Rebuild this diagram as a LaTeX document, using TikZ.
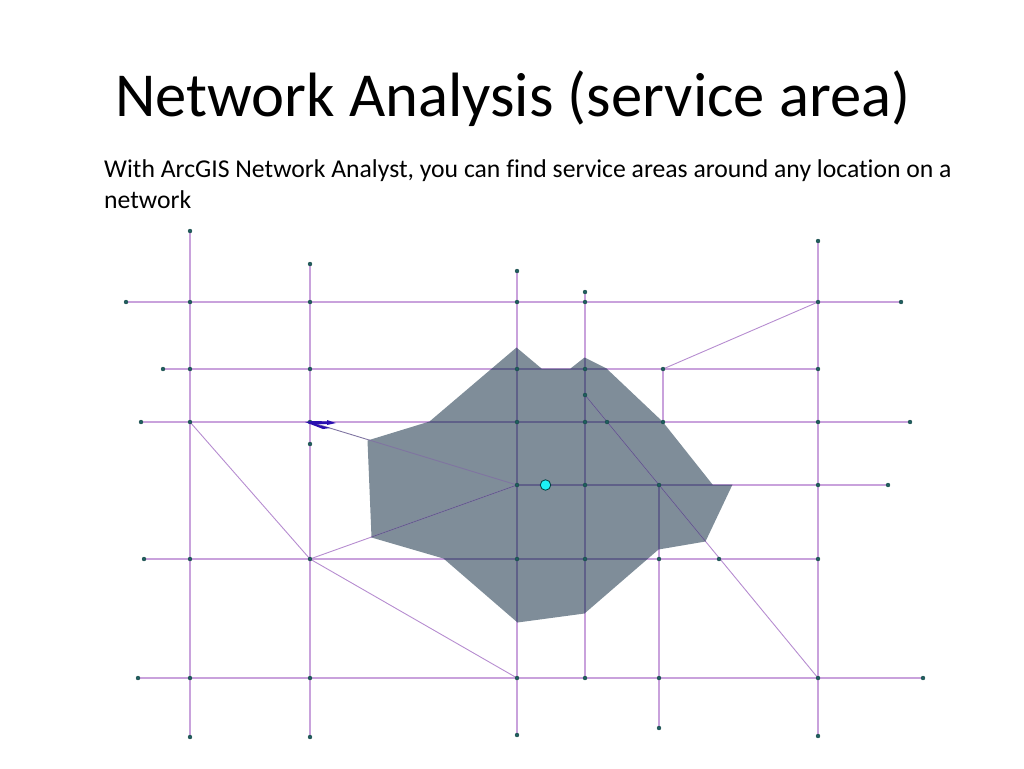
\documentclass[tikz,border=0pt]{standalone}
\usepackage{fontspec}
\setmainfont[Ligatures={NoCommon}]{Carlito}
\pgfdeclarelayer{bg}
\pgfsetlayers{bg,main}
\definecolor{netpurple}{HTML}{C9A2DC}
\definecolor{diagpurple}{HTML}{B68CD0}
\definecolor{netdark}{HTML}{5F6088}
\definecolor{areagrey}{HTML}{7F8D99}
\definecolor{dotgreen}{HTML}{1F5F5F}
\definecolor{barrierblue}{HTML}{2A10B0}
\definecolor{faccyan}{HTML}{1CF0F4}
\tikzset{
  dot/.style={circle,fill=dotgreen,draw=dotgreen!70!black,line width=0.3pt,minimum size=4pt,inner sep=0pt},
  facility/.style={circle,fill=faccyan,draw=black!50!teal,line width=0.8pt,minimum size=10.5pt,inner sep=0pt},
  titletext/.style={anchor=base west,inner sep=0pt,font=\fontsize{62.6}{62.6}\selectfont},
  bodytext/.style={anchor=base west,inner sep=0pt,font=\fontsize{25.68}{25.68}\selectfont},
}
\newcommand{\netlines}[2]{%
  \begin{scope}[color=#1,line width=1.4pt]
  \draw (n125-301.center) -- (n900-301.center);
  \draw (n162-368.center) -- (n817-368.center);
  \draw (n140-421.center) -- (n909-421.center);
  \draw (n516-484.center) -- (n887-484.center);
  \draw (n143-558.center) -- (n817-558.center);
  \draw (n137-677.center) -- (n922-677.center);
  \draw (n189-230.center) -- (n189-736.center);
  \draw (n309-263.center) -- (n309-736.center);
  \draw (n516-270.center) -- (n516-734.center);
  \draw (n584-291.center) -- (n584-677.center);
  \draw (n658-484.center) -- (n658-727.center);
  \draw (n817-240.center) -- (n817-735.center);
  \draw (n662-368.center) -- (n662-421.center);
  \end{scope}
  \begin{scope}[color=#2,line width=0.9pt]
  \draw (n817-301.center) -- (n662-368.center);
  \draw (n189-421.center) -- (n309-558.center);
  \draw (n309-558.center) -- (n516-484.center);
  \draw (n309-558.center) -- (n516-677.center);
  \draw (n584-394.center) -- (n817-677.center);
  \end{scope}}
\begin{document}
\begin{tikzpicture}[x=1pt,y=-1pt]
\useasboundingbox (-1,-1) rectangle (1023,767);
\node[titletext] (title) at (114,115.5) {Network Analysis (service area)};
\node[bodytext] (line1) at (103,176.5) {With ArcGIS Network Analyst, you can find service areas around any location on a};
\node[bodytext] (line2) at (103,207.5) {network};
\foreach \x/\y in {125/301,189/301,309/301,516/301,584/301,817/301,900/301,
  189/230,309/263,516/270,584/291,817/240,
  162/368,189/368,309/368,516/368,584/368,662/368,817/368,
  140/421,189/421,309/421,516/421,584/421,606/421,662/421,817/421,909/421,
  584/394,309/443,
  516/484,584/484,658/484,817/484,887/484,
  143/558,189/558,309/558,516/558,584/558,658/558,718/558,817/558,
  137/677,189/677,309/677,516/677,584/677,658/677,817/677,922/677,
  189/736,309/736,516/734,658/727,817/735}
  {\node[dot] (n\x-\y) at (\x,\y) {};}
\node[facility] (fac) at (544.5,484) {};
\begin{pgfonlayer}{bg}
  \fill[areagrey] (515.5,346.5) -- (540.5,367.5) -- (569.5,367.5) -- (583.5,356.5) -- (605.5,367.5) -- (661.5,420.5) -- (711.5,483.5) -- (731.5,483.5) -- (704.5,540.5) -- (657.5,548.5) -- (583.5,612.5) -- (516.5,621.5) -- (442.5,557.5) -- (370.5,536.5) -- (366.5,439.5) -- (428.5,420.5) -- cycle;
  \netlines{netpurple}{diagpurple}
  \begin{scope}
    \clip (515.5,346.5) -- (540.5,367.5) -- (569.5,367.5) -- (583.5,356.5) -- (605.5,367.5) -- (661.5,420.5) -- (711.5,483.5) -- (731.5,483.5) -- (704.5,540.5) -- (657.5,548.5) -- (583.5,612.5) -- (516.5,621.5) -- (442.5,557.5) -- (370.5,536.5) -- (366.5,439.5) -- (428.5,420.5) -- cycle;
    \netlines{netdark}{netdark}
  \end{scope}
  \draw[netdark!70!netpurple,line width=0.9pt] (n516-484.center) -- (n309-421.center);
\end{pgfonlayer}
\fill[barrierblue] (n309-421.center) ++(-5,0) -- (312,420) -- (326,420.4) -- (326,419) -- (335,422) -- (326,424) -- (326,423) -- (314,423) -- (329,427) -- (322,428) -- cycle;
\end{tikzpicture}
\end{document}
